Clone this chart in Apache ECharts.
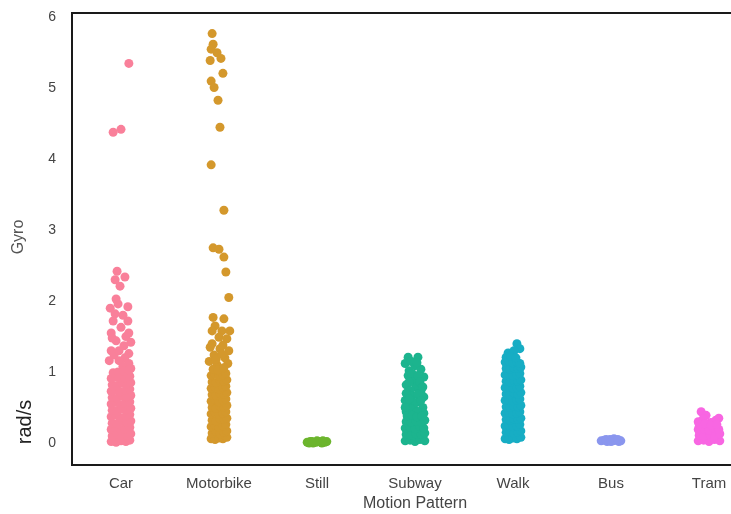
<!DOCTYPE html>
<html lang="en">
<head>
    <meta charset="UTF-8">
    <title>Gyro strip plot</title>
    <script src="https://cdn.jsdelivr.net/npm/echarts@6/dist/echarts.min.js"></script>
    <style>
        html, body { margin: 0; padding: 0; background: #fff; }
        #chart { width: 731px; height: 514px; }
    </style>
</head>
<body>
    <div id="chart"></div>
    <script>
        // categories + colours
        var categories = ['Car', 'Motorbike', 'Still', 'Subway', 'Walk', 'Bus', 'Tram'];
        var colors = ['#f9809a', '#d4982c', '#6cb52d', '#1cb48e', '#17adc4', '#8a96ee', '#f866e2'];

        // points as [jitter (fraction of category width), gyro rad/s]
        var carPts = [
            [0.08,5.35],[-0.08,4.38],[0.00,4.42],
            [-0.04,2.42],[0.04,2.34],[-0.06,2.30],[-0.01,2.21],[-0.05,2.03],[-0.11,1.90],[-0.03,1.96],[0.07,1.92],
            [-0.08,1.72],[0.07,1.72],[0.00,1.63],[-0.10,1.55],[0.08,1.55],[-0.05,1.44],[0.10,1.42],[0.03,1.37],
            [-0.09,1.48],[-0.10,1.30],[0.08,1.26],[-0.07,1.24],[0.04,1.20],[-0.12,1.16],[-0.02,1.16],[0.08,1.12],
            [0.10,1.05],[0.02,1.08],[-0.02,1.30],[0.05,1.50],[-0.06,1.82],[0.02,1.80],
            [-0.10,0.02],[-0.05,0.01],[0.00,0.03],[0.05,0.02],[0.09,0.04],
            [-0.09,0.10],[-0.04,0.12],[0.01,0.09],[0.06,0.11],[0.10,0.13],
            [-0.10,0.19],[-0.05,0.21],[0.00,0.18],[0.04,0.20],[0.09,0.22],
            [-0.09,0.28],[-0.04,0.27],[0.02,0.30],[0.06,0.29],[0.10,0.31],
            [-0.10,0.37],[-0.05,0.39],[-0.01,0.36],[0.05,0.38],[0.09,0.40],
            [-0.09,0.46],[-0.04,0.45],[0.01,0.48],[0.06,0.47],[0.10,0.49],
            [-0.10,0.55],[-0.05,0.57],[0.00,0.54],[0.04,0.56],[0.09,0.58],
            [-0.09,0.64],[-0.04,0.63],[0.02,0.66],[0.06,0.65],[0.10,0.67],
            [-0.10,0.73],[-0.05,0.75],[-0.01,0.72],[0.05,0.74],[0.09,0.76],
            [-0.09,0.82],[-0.04,0.81],[0.01,0.84],[0.06,0.83],[0.10,0.85],
            [-0.10,0.91],[-0.05,0.93],[0.00,0.90],[0.04,0.92],[0.09,0.94],
            [-0.08,0.99],[-0.03,1.00],[0.03,1.01],[0.08,1.03]
        ];
        var motorbikePts = [
            [-0.07,5.77],[-0.06,5.62],[-0.08,5.55],[-0.02,5.50],[-0.09,5.39],[0.02,5.42],[0.04,5.21],[-0.08,5.10],
            [-0.05,5.01],[-0.01,4.83],[0.01,4.45],[-0.08,3.92],[0.05,3.28],[-0.06,2.75],[0.00,2.73],[0.05,2.62],
            [0.07,2.41],[0.10,2.05],
            [-0.06,1.77],[0.05,1.75],[-0.04,1.65],[-0.07,1.58],[0.03,1.58],[0.11,1.58],[0.00,1.49],[0.08,1.47],
            [-0.09,1.35],[0.01,1.33],[0.10,1.30],[-0.05,1.24],[0.06,1.20],[-0.10,1.15],[0.09,1.12],[-0.02,1.10],
            [-0.07,1.40],[0.04,1.38],[-0.03,1.18],[0.03,1.25],
            [-0.08,0.06],[-0.04,0.05],[0.00,0.07],[0.04,0.06],[0.08,0.08],
            [-0.07,0.14],[-0.03,0.16],[0.01,0.13],[0.05,0.15],[0.08,0.17],
            [-0.08,0.23],[-0.04,0.25],[0.00,0.22],[0.04,0.24],[0.07,0.26],
            [-0.07,0.32],[-0.03,0.31],[0.01,0.34],[0.05,0.33],[0.08,0.35],
            [-0.08,0.41],[-0.04,0.43],[0.00,0.40],[0.04,0.42],[0.07,0.44],
            [-0.07,0.50],[-0.03,0.49],[0.01,0.52],[0.05,0.51],[0.08,0.53],
            [-0.08,0.59],[-0.04,0.61],[0.00,0.58],[0.04,0.60],[0.07,0.62],
            [-0.07,0.68],[-0.03,0.67],[0.01,0.70],[0.05,0.69],[0.08,0.71],
            [-0.08,0.77],[-0.04,0.79],[0.00,0.76],[0.04,0.78],[0.07,0.80],
            [-0.07,0.86],[-0.03,0.85],[0.01,0.88],[0.05,0.87],[0.08,0.89],
            [-0.08,0.95],[-0.04,0.97],[0.00,0.94],[0.04,0.96],[0.07,0.98],
            [-0.06,1.04],[-0.01,1.03],[0.05,1.06]
        ];
        var stillPts = [
            [-0.10,0.01],[-0.07,0.02],[-0.04,0.00],[-0.01,0.01],[0.02,0.02],[0.05,0.00],
            [0.08,0.01],[0.10,0.02],[-0.08,0.00],[0.00,0.03],[0.06,0.03],[-0.05,0.02]
        ];
        var subwayPts = [
            [-0.07,1.21],[0.03,1.21],[-0.10,1.12],[0.00,1.09],[-0.06,1.02],[0.06,1.04],[-0.07,0.95],[0.09,0.93],
            [-0.02,0.88],[-0.09,0.82],[0.01,0.79],[-0.05,0.74],[0.06,0.72],[0.09,0.65],[-0.10,0.60],[-0.03,0.66],
            [0.03,0.58],[-0.07,0.52],[0.08,0.50],[0.00,0.47],[-0.09,0.44],[0.05,0.43],
            [-0.04,1.15],[0.02,1.13],[-0.03,0.98],[0.03,0.95],[0.05,0.86],[-0.06,0.86],[-0.09,0.70],[0.03,0.69],
            [-0.01,0.56],[0.06,0.60],[-0.06,0.62],[0.08,0.79],[-0.04,0.48],[0.09,0.42],[-0.10,0.50],[0.02,0.44],
            [-0.10,0.03],[-0.05,0.04],[0.00,0.02],[0.05,0.05],[0.10,0.03],
            [-0.09,0.12],[-0.04,0.11],[0.01,0.13],[0.06,0.12],[0.10,0.14],
            [-0.10,0.21],[-0.05,0.22],[0.00,0.20],[0.05,0.23],[0.09,0.21],
            [-0.09,0.30],[-0.04,0.29],[0.01,0.31],[0.06,0.30],[0.10,0.32],
            [-0.08,0.38],[-0.03,0.39],[0.02,0.37],[0.07,0.38]
        ];
        var walkPts = [
            [0.04,1.40],[0.07,1.33],[-0.05,1.27],[0.01,1.30],
            [-0.08,0.06],[-0.04,0.05],[0.00,0.07],[0.04,0.06],[0.08,0.08],
            [-0.07,0.15],[-0.03,0.16],[0.01,0.14],[0.05,0.15],[0.08,0.17],
            [-0.08,0.24],[-0.04,0.25],[0.00,0.23],[0.04,0.24],[0.07,0.26],
            [-0.07,0.33],[-0.03,0.32],[0.01,0.34],[0.05,0.33],[0.08,0.35],
            [-0.08,0.42],[-0.04,0.43],[0.00,0.41],[0.04,0.42],[0.07,0.44],
            [-0.07,0.51],[-0.03,0.50],[0.01,0.52],[0.05,0.51],[0.08,0.53],
            [-0.08,0.60],[-0.04,0.61],[0.00,0.59],[0.04,0.60],[0.07,0.62],
            [-0.07,0.69],[-0.03,0.68],[0.01,0.70],[0.05,0.69],[0.08,0.71],
            [-0.08,0.78],[-0.04,0.79],[0.00,0.77],[0.04,0.78],[0.07,0.80],
            [-0.07,0.87],[-0.03,0.86],[0.01,0.88],[0.05,0.87],[0.08,0.89],
            [-0.08,0.96],[-0.04,0.97],[0.00,0.95],[0.04,0.96],[0.07,0.98],
            [-0.07,1.05],[-0.03,1.04],[0.01,1.06],[0.05,1.05],[0.08,1.07],
            [-0.08,1.14],[-0.04,1.15],[0.00,1.13],[0.04,1.14],[0.07,1.12],
            [-0.07,1.21],[-0.02,1.22],[0.03,1.20]
        ];
        var busPts = [
            [-0.10,0.03],[-0.07,0.04],[-0.04,0.02],[-0.01,0.05],[0.02,0.03],[0.05,0.04],
            [0.08,0.02],[0.10,0.03],[-0.05,0.05],[0.03,0.06],[0.00,0.02],[0.07,0.05]
        ];
        var tramPts = [
            [-0.08,0.44],[-0.03,0.39],[0.07,0.32],[-0.11,0.30],[0.02,0.29],[0.10,0.35],[-0.06,0.34],
            [-0.11,0.03],[-0.055,0.04],[0.00,0.02],[0.055,0.05],[0.11,0.03],
            [-0.10,0.11],[-0.05,0.10],[0.01,0.12],[0.06,0.11],[0.11,0.13],
            [-0.11,0.19],[-0.05,0.20],[0.00,0.18],[0.05,0.21],[0.10,0.19],
            [-0.10,0.26],[-0.04,0.27],[0.02,0.25],[0.08,0.26]
        ];

        var allPts = [carPts, motorbikePts, stillPts, subwayPts, walkPts, busPts, tramPts];

        var chart = echarts.init(document.getElementById('chart'), null, {renderer: 'canvas'});

        var series = allPts.map(function (pts, i) {
            return {
                name: categories[i],
                type: 'scatter',
                xAxisIndex: 1,
                symbolSize: 9,
                itemStyle: {color: colors[i], opacity: 1},
                data: pts.map(function (p) { return [i + p[0], p[1]]; })
            };
        });

        var option = {
            animation: false,
            backgroundColor: '#fff',
            grid: {
                left: 72,
                top: 13,
                width: 686,
                height: 452,
                outerBoundsMode: 'none',
                containLabel: false,
                show: true,
                borderColor: '#1a1a1a',
                borderWidth: 2
            },
            xAxis: [
                {
                    type: 'category',
                    data: categories,
                    boundaryGap: true,
                    axisLine: {show: false},
                    axisTick: {show: false},
                    splitLine: {show: false},
                    axisLabel: {
                        margin: 11,
                        fontSize: 15,
                        color: '#444',
                        fontFamily: 'Liberation Sans'
                    },
                    name: 'Motion Pattern',
                    nameLocation: 'middle',
                    nameGap: 31,
                    nameTextStyle: {fontSize: 16, color: '#444', fontFamily: 'Liberation Sans'}
                },
                {
                    type: 'value',
                    min: -0.5,
                    max: 6.5,
                    show: false
                }
            ],
            yAxis: {
                type: 'value',
                min: -0.31,
                max: 6.06,
                axisLine: {show: false},
                axisTick: {show: false},
                splitLine: {show: false},
                axisLabel: {
                    margin: 16,
                    fontSize: 14,
                    color: '#444',
                    fontFamily: 'Liberation Sans',
                    formatter: function (v) {
                        return Math.abs(v - Math.round(v)) < 1e-6 ? String(Math.round(v)) : '';
                    }
                }
            },
            graphic: [
                {
                    type: 'text',
                    x: 19,
                    y: 237,
                    rotation: Math.PI / 2,
                    style: {
                        text: 'Gyro',
                        fill: '#555',
                        font: '16px "Liberation Sans"',
                        textAlign: 'center',
                        textVerticalAlign: 'middle',
                        align: 'center',
                        verticalAlign: 'middle'
                    }
                },
                {
                    type: 'text',
                    x: 25,
                    y: 422,
                    rotation: Math.PI / 2,
                    style: {
                        text: 'rad/s',
                        fill: '#222',
                        font: '20px "Liberation Sans"',
                        textAlign: 'center',
                        textVerticalAlign: 'middle',
                        align: 'center',
                        verticalAlign: 'middle'
                    }
                }
            ],
            series: series
        };

        chart.setOption(option);
    </script>
</body>
</html>
